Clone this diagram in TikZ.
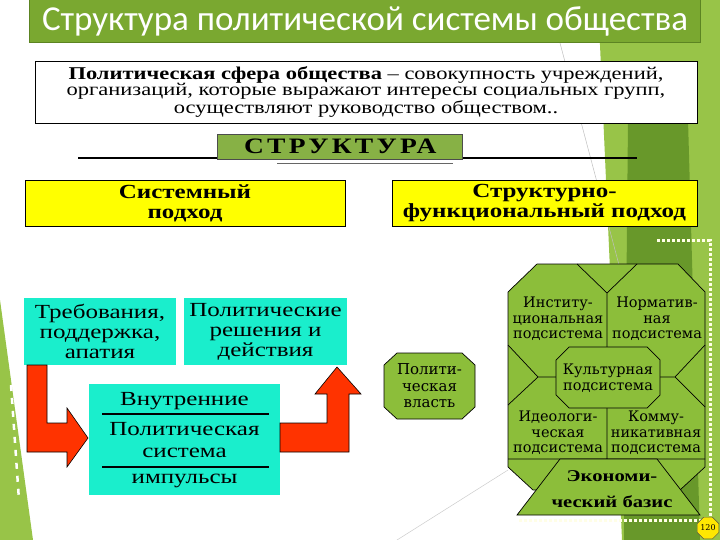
\documentclass[tikz,border=0pt]{standalone}
\usepackage{fontspec}
\setmainfont[FakeStretch=1.25]{Liberation Serif}
\newfontfamily\titlefont{Carlito}
\newfontfamily\spacedfont[FakeStretch=1.25,LetterSpace=15]{Liberation Serif}
\newfontfamily\subfont{DejaVu Serif}
\usepackage{xcolor}
\usetikzlibrary{shapes.geometric}

\definecolor{barGreen}{RGB}{122,168,48}
\definecolor{barEdge}{RGB}{92,132,34}
\definecolor{bgLight}{RGB}{152,196,72}
\definecolor{bgDark}{RGB}{104,152,42}
\definecolor{octGreen}{RGB}{140,190,58}
\definecolor{boxYellow}{RGB}{255,255,0}
\definecolor{boxCyan}{RGB}{26,238,204}
\definecolor{arrowRed}{RGB}{255,51,0}

\tikzset{
  titlebar/.style={fill=barGreen,draw=barEdge,line width=1bp,minimum width=670bp,minimum height=43bp,
    text=white,font=\titlefont\fontsize{35bp}{38bp}\selectfont},
  defbox/.style={draw=black,line width=0.8bp,fill=white,minimum width=662bp,minimum height=62bp,
    align=center,font=\fontsize{18bp}{16.5bp}\selectfont},
  strukbox/.style={fill=barGreen!90!white,draw=black!70,line width=0.6bp,minimum width=245bp,minimum height=25bp,
    inner sep=0pt,font=\spacedfont\bfseries\fontsize{22bp}{22bp}\selectfont},
  ybox/.style={draw=black,line width=0.6bp,fill=boxYellow,minimum width=320bp,minimum height=46bp,
    align=center,inner sep=0pt,font=\bfseries\fontsize{20bp}{20bp}\selectfont},
  cbox/.style={fill=boxCyan,align=center,inner sep=0pt,font=\fontsize{20bp}{20bp}\selectfont},
  cline/.style={inner sep=0pt,font=\fontsize{20bp}{20bp}\selectfont},
  redarrow/.style={fill=arrowRed,draw=black,line width=0.6bp,line join=miter},
  octpart/.style={fill=octGreen,draw=black,line width=0.7bp},
  subtext/.style={align=center,inner sep=0pt,font=\subfont\fontsize{14.5bp}{15.5bp}\selectfont},
  pagenum/.style={regular polygon,regular polygon sides=8,minimum size=22bp,inner sep=0pt,
    fill=yellow!90!orange,draw=black!70,font=\subfont\fontsize{8bp}{9bp}\selectfont}
}

\begin{document}
\begin{tikzpicture}[x=1bp,y=-1bp]
  \useasboundingbox (0,0) rectangle (720,540);
  %фон
  \fill[white] (0,0) rectangle (720,540);
  \fill[bgLight] (598,0) -- (720,0) -- (720,540) -- (622,540) -- cycle;
  \fill[bgDark] (628,120) -- (688,120) -- (700,540) -- (624,540) -- cycle;
  \fill[bgLight] (0,300) -- (33,540) -- (0,540) -- cycle;
  \draw[white,line width=2.5bp,dash pattern=on 6bp off 7bp] (11,385) -- (19,500);
  \draw[black!25,line width=0.5bp] (560,43) -- (623,280);
  \draw[black!20,line width=0.5bp] (397,540) -- (508,470);
  \draw[white!90!yellow,line width=3bp,dash pattern=on 3bp off 2bp] (657,241) -- (710,241) -- (710,520) -- (517,520);

  %заголовок и определение
  \node[titlebar] (title) at (365,21.5) {Структура политической системы общества};
  \node[defbox] (def) at (366,92) {\textbf{Политическая сфера общества} -- совокупность учреждений,\\
    организаций, которые выражают интересы социальных групп,\\
    осуществляют руководство обществом..};

  %структура
  \coordinate (lineL) at (78,158);
  \coordinate (lineR) at (637,158);
  \coordinate (shadowL) at (277,163);
  \coordinate (shadowR) at (453,163);
  \draw[line width=1.5bp] (lineL) -- (lineR);
  \draw[black!60,line width=0.8bp] (shadowL) -- (shadowR);
  \node[strukbox] (struk) at (339.5,146.5) {\hspace*{1.6bp}СТРУКТУРА};

  \node[ybox] (sys) at (185,203) {Системный\\подход};
  \node[ybox,minimum width=305bp] (sf) at (544.5,203) {Структурно-\\функциональный подход};

  %системный подход
  \node[cbox,minimum width=151bp,minimum height=67bp] (req) at (100,331.5) {Требования,\\поддержка,\\апатия};
  \node[cbox,minimum width=163bp,minimum height=67bp] (dec) at (265.5,331.5) {Политические\\решения и\\действия};
  \node[cbox,minimum width=191bp,minimum height=111bp] (ps) at (184.5,439.5) {};
  \node[cline] (ps-1) at (184.5,401) {Внутренние};
  \node[cline] (ps-2) at (184.5,429) {Политическая};
  \node[cline] (ps-3) at (184.5,453) {система};
  \node[cline] (ps-4) at (184.5,481) {импульсы};
  \draw[line width=2bp] (102,414) -- (269,414) (102,467) -- (269,467);

  \draw[redarrow] (27,365) -- (47,365) -- (47,423) -- (67,423) -- (67,408) -- (88,438)
    -- (67,467) -- (67,452) -- (27,452) -- cycle;
  \draw[redarrow] (280,423) -- (327,423) -- (327,394) -- (315,394) -- (337,367) -- (361,394)
    -- (349,394) -- (349,452) -- (280,452) -- cycle;

  %структурно-функциональный подход
  \draw[octpart] (397,353) -- (462,353) -- (475,365) -- (475,407) -- (462,419) -- (397,419)
    -- (384,407) -- (384,365) -- cycle;
  \node[subtext,font=\subfont\fontsize{15bp}{16.5bp}\selectfont] (power) at (429.5,386) {Полити-\\ческая\\власть};

  \draw[octpart] (537,264) -- (678,264) -- (705,292) -- (705,467) -- (680,490) -- (533,490)
    -- (508,467) -- (508,292) -- cycle;
  \draw[line width=0.7bp] (577,264) -- (607,293) -- (637,264) (607,293) -- (607,347)
    (508,345) -- (538,377) -- (508,405) (538,377) -- (556,377)
    (705,345) -- (675,377) -- (705,407) (675,377) -- (660,377)
    (607,408) -- (607,459) (508,459) -- (705,459);
  \draw[octpart] (569,347) -- (647,347) -- (660,360) -- (660,395) -- (647,408) -- (569,408)
    -- (556,395) -- (556,360) -- cycle;
  \draw[octpart] (560,459) -- (657,459) -- (700,515) -- (517,515) -- cycle;

  \node[subtext] (inst) at (558,319) {Институ-\\циональная\\подсистема};
  \node[subtext] (norm) at (657,319) {Норматив-\\ная\\подсистема};
  \node[subtext] (cult) at (608,378) {Культурная\\подсистема};
  \node[subtext] (ideo) at (558,433) {Идеологи-\\ческая\\подсистема};
  \node[subtext] (comm) at (656,433) {Комму-\\никативная\\подсистема};
  \node[subtext,font=\bfseries\fontsize{16.5bp}{26bp}\selectfont] (econ) at (612,489) {Экономи-\\ческий базис};

  \node[pagenum] (page) at (708,528) {120};
\end{tikzpicture}
\end{document}
